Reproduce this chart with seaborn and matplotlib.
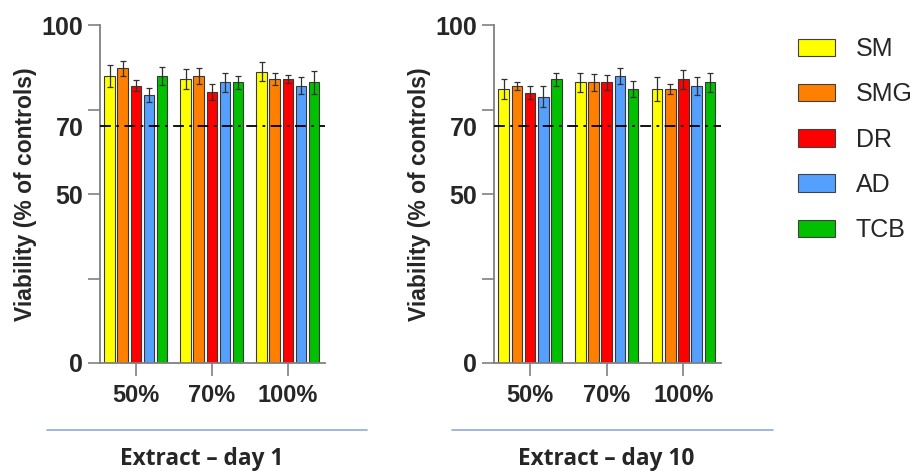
import matplotlib
matplotlib.use("Agg")
import matplotlib.pyplot as plt
from matplotlib.lines import Line2D
from matplotlib.patches import Patch
import seaborn as sns
import pandas as pd

# extract concentrations and treatments
concentrations = ["50%", "70%", "100%"]
treatments = ["SM", "SMG", "DR", "AD", "TCB"]
colors = ["#FFFF00", "#FF8000", "#FF0000", "#55A0FF", "#00C000"]

# mean viability (% of controls) per treatment, in order 50%, 70%, 100%
day1_mean = {
    "SM": [85.0, 84.0, 86.2],
    "SMG": [87.2, 85.0, 84.0],
    "DR": [82.1, 80.1, 84.0],
    "AD": [79.3, 83.0, 82.1],
    "TCB": [85.0, 83.0, 83.0],
}
day1_sd = {
    "SM": [3.3, 2.9, 2.9],
    "SMG": [2.2, 2.4, 1.7],
    "DR": [1.5, 2.4, 1.1],
    "AD": [2.0, 2.7, 2.6],
    "TCB": [2.7, 2.0, 3.3],
}
day10_mean = {
    "SM": [81.0, 83.0, 81.0],
    "SMG": [82.0, 83.0, 81.0],
    "DR": [80.0, 83.0, 83.9],
    "AD": [78.8, 85.0, 82.0],
    "TCB": [83.9, 81.0, 83.0],
}
day10_sd = {
    "SM": [3.0, 2.7, 3.5],
    "SMG": [1.2, 2.4, 1.5],
    "DR": [2.0, 2.2, 2.8],
    "AD": [3.2, 2.4, 2.7],
    "TCB": [1.9, 2.3, 2.8],
}
panel_titles = ["Extract \u2013 day 1", "Extract \u2013 day 10"]
threshold = 70

sns.set_style("ticks")
plt.rcParams["font.family"] = ["Liberation Sans", "DejaVu Sans"]

fig = plt.figure(figsize=(9.21, 4.71), dpi=100)
ax1 = fig.add_axes([0.1086, 0.2293, 0.2443, 0.7176])
ax2 = fig.add_axes([0.5364, 0.2293, 0.2465, 0.7176])

spine_col = "#808080"


def long_table(means):
    rows = []
    for t in treatments:
        for c, v in zip(concentrations, means[t]):
            rows.append({"conc": c, "treat": t, "viab": v})
    return pd.DataFrame(rows)


def draw_panel(ax, means, sds):
    df = long_table(means)
    sns.barplot(data=df, x="conc", y="viab", hue="treat", hue_order=treatments,
                order=concentrations, palette=colors, saturation=1, errorbar=None,
                width=0.86, gap=0.2, edgecolor="#383838", linewidth=0.8,
                legend=False, ax=ax)
    for cont, t in zip(ax.containers, treatments):
        for bar, sd in zip(cont, sds[t]):
            ax.errorbar(bar.get_x() + bar.get_width() / 2, bar.get_height(), yerr=sd,
                        color="#303030", lw=0.9, capsize=2.5, capthick=0.9, zorder=5)
    ax.axhline(threshold, color="black", lw=1.3, ls=(0, (6, 3, 1.5, 3)), zorder=6)
    ax.set_ylim(0, 100)
    ax.set_xlim(-0.47, 2.49)
    ax.set_yticks([0, 25, 50, 75, 100])
    ax.set_yticklabels(["0", "", "50", "", "100"], fontsize=18, fontweight="bold")
    ax.set_yticks([threshold], minor=True)
    ax.set_yticklabels([str(threshold)], minor=True, fontsize=18, fontweight="bold")
    ax.tick_params(axis="y", which="minor", length=0, pad=12)
    ax.tick_params(axis="y", which="major", length=9, width=1.2, color=spine_col, pad=3)
    ax.tick_params(axis="x", length=9, width=1.2, color=spine_col, pad=6)
    for lab in ax.get_xticklabels():
        lab.set_fontsize(17)
        lab.set_fontweight("bold")
    ax.set_xlabel("")
    ax.set_ylabel("Viability (% of controls)", fontsize=16.5, fontweight="bold", labelpad=3)
    sns.despine(ax=ax)
    for s in ["left", "bottom"]:
        ax.spines[s].set_color(spine_col)
        ax.spines[s].set_linewidth(1.3)


draw_panel(ax1, day1_mean, day1_sd)
draw_panel(ax2, day10_mean, day10_sd)

# blue separator lines and panel captions
for x0, x1, xt, title in [(47, 367, 202, panel_titles[0]), (452, 773, 606, panel_titles[1])]:
    fig.add_artist(Line2D([x0 / 921, x1 / 921], [1 - 430 / 471] * 2,
                          color="#8FAADC", lw=1.2))
    fig.text(xt / 921, 1 - 459 / 471, title, ha="center", va="center",
             fontsize=16.3, fontweight="bold", family=["Open Sans", "DejaVu Sans"])

handles = [Patch(facecolor=c, edgecolor="#404040", linewidth=0.8) for c in colors]
fig.legend(handles, treatments, loc="upper left", bbox_to_anchor=(0.866, 0.921),
           frameon=False, fontsize=18, handlelength=1.48, handleheight=0.7,
           labelspacing=0.85, handletextpad=0.84, borderaxespad=0, borderpad=0)

fig.savefig("out.png", dpi=100)
